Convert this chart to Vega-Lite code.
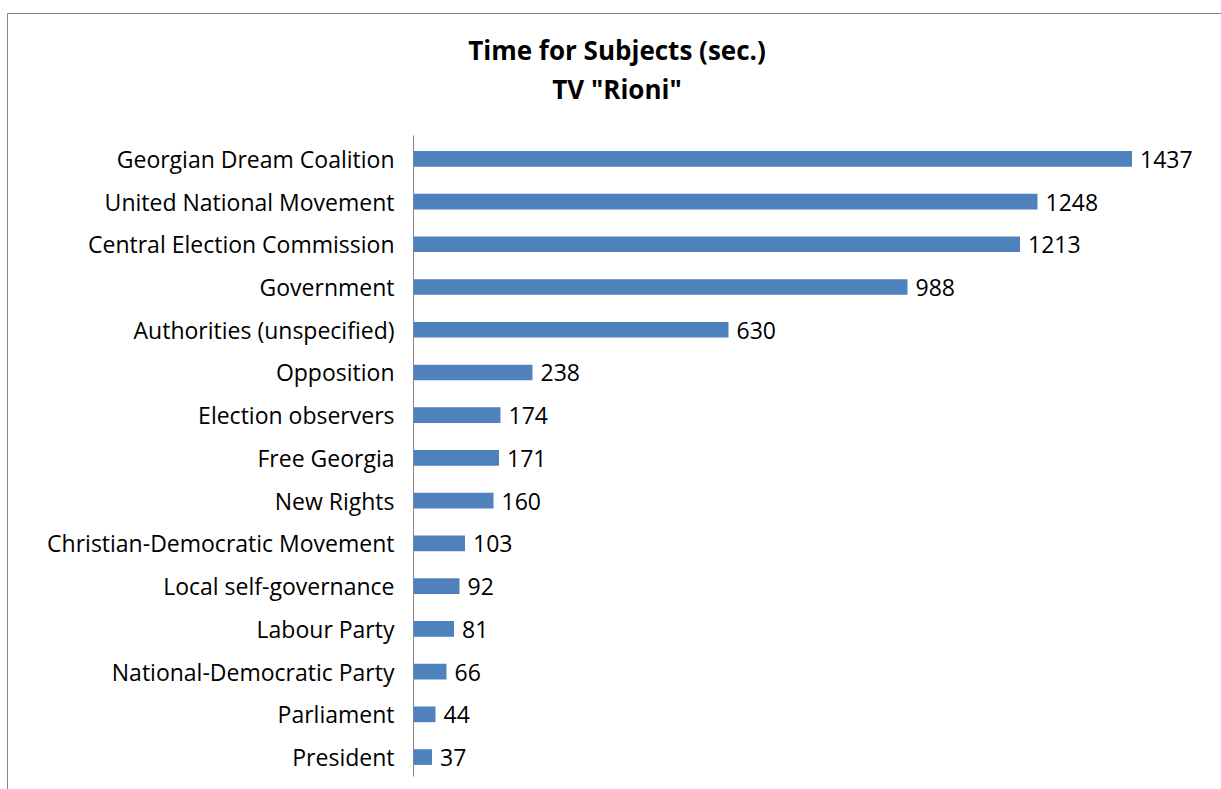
{
  "$schema": "https://vega.github.io/schema/vega-lite/v6.json",
  "width": 1220,
  "height": 800,
  "autosize": "none",
  "padding": {"left": 7, "top": 13, "right": 0, "bottom": 0},
  "background": "white",
  "config": {"view": {"stroke": "#878787", "strokeWidth": 1}, "font": "Open Sans"},
  "title": {
    "text": ["Time for Subjects (sec.)", "TV \"Rioni\""],
    "fontSize": 26,
    "fontWeight": "bold",
    "font": "Open Sans",
    "anchor": "middle",
    "frame": "group",
    "offset": -91,
    "baseline": "top",
    "lineHeight": 39,
    "color": "black"
  },
  "data": {
    "values": [
      {"subject": "Georgian Dream Coalition", "seconds": 1437},
      {"subject": "United National Movement", "seconds": 1248},
      {"subject": "Central Election Commission", "seconds": 1213},
      {"subject": "Government", "seconds": 988},
      {"subject": "Authorities (unspecified)", "seconds": 630},
      {"subject": "Opposition", "seconds": 238},
      {"subject": "Election observers", "seconds": 174},
      {"subject": "Free Georgia", "seconds": 171},
      {"subject": "New Rights", "seconds": 160},
      {"subject": "Christian-Democratic Movement", "seconds": 103},
      {"subject": "Local self-governance", "seconds": 92},
      {"subject": "Labour Party", "seconds": 81},
      {"subject": "National-Democratic Party", "seconds": 66},
      {"subject": "Parliament", "seconds": 44},
      {"subject": "President", "seconds": 37}
    ]
  },
  "encoding": {
    "y": {
      "field": "subject",
      "type": "nominal",
      "sort": null,
      "scale": {"range": [122, 763], "paddingInner": 0.633, "paddingOuter": 0.3165, "align": 0.59},
      "axis": {
        "title": null,
        "domainColor": "#878787",
        "offset": -406,
        "ticks": false,
        "labelPadding": 19,
        "labelOffset": 2,
        "labelFontSize": 23,
        "labelColor": "black",
        "labelFont": "Open Sans",
        "labelLimit": 500
      }
    },
    "x": {
      "field": "seconds",
      "type": "quantitative",
      "scale": {"domain": [-813, 1627], "nice": false, "zero": true},
      "axis": null
    }
  },
  "layer": [
    {"mark": {"type": "bar", "color": "#4F81BD"}},
    {
      "mark": {"type": "text", "align": "left", "baseline": "middle", "dx": 8, "dy": 2, "fontSize": 23, "color": "black", "font": "Open Sans"},
      "encoding": {"text": {"field": "seconds", "type": "quantitative"}}
    }
  ]
}
